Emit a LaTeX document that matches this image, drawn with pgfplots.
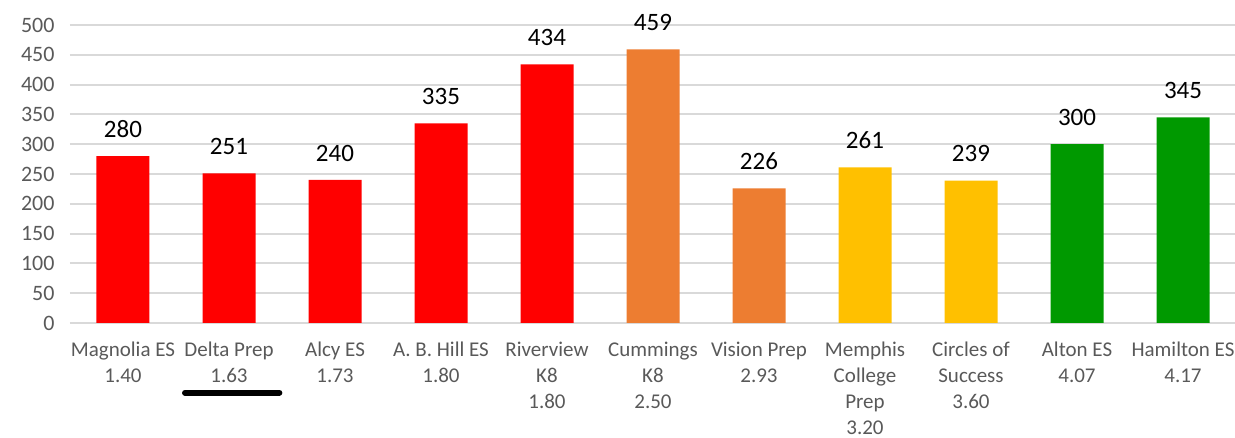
\documentclass[border=0pt]{standalone}
\usepackage{fontspec}
\setmainfont{Carlito}
\usepackage{pgfplots}
\pgfplotsset{compat=1.18}
\definecolor{cred}{HTML}{FF0000}
\definecolor{corange}{HTML}{ED7D31}
\definecolor{cyellow}{HTML}{FFC000}
\definecolor{cgreen}{HTML}{009900}
\definecolor{cgrid}{HTML}{D9D9D9}
\definecolor{ctick}{HTML}{595959}
\begin{document}
\begin{tikzpicture}
\path[use as bounding box] (-70pt,-115pt) rectangle (1165pt,323pt);
\begin{axis}[
  scale only axis, width=1166pt, height=298pt,
  at={(0pt,0pt)}, anchor=south west,
  xmin=-0.5, xmax=10.5, ymin=0, ymax=500,
  ytick={0,50,...,500},
  xtick={0,...,10},
  xticklabels={{Magnolia ES\\1.40},{Delta Prep\\1.63},{Alcy ES\\1.73},{A. B. Hill ES\\1.80},{Riverview\\K8\\1.80},{Cummings\\K8\\2.50},{Vision Prep\\2.93},{Memphis\\College\\Prep\\3.20},{Circles of\\Success\\3.60},{Alton ES\\4.07},{Hamilton ES\\4.17}},
  xticklabel style={align=center, font=\fontsize{21}{26}\selectfont, text=ctick, anchor=north, yshift=-11pt},
  yticklabel style={font=\fontsize{22}{26}\selectfont, text=ctick, xshift=-12pt},
  /pgf/number format/assume math mode=true,
  ymajorgrids, grid style={cgrid, line width=2pt},
  axis line style={draw=none},
  major tick style={draw=none},
  ybar, bar width=53pt, bar shift=0pt,
  nodes near coords,
  nodes near coords style={font=\fontsize{25}{30}\selectfont, text=black, anchor=south, yshift=15pt},
  clip=false,
]
\addplot[fill=cred, draw=none] coordinates {(0,280) (1,251) (2,240) (3,335) (4,434)};
\addplot[fill=corange, draw=none] coordinates {(5,459) (6,226)};
\addplot[fill=cyellow, draw=none] coordinates {(7,261) (8,239)};
\addplot[fill=cgreen, draw=none] coordinates {(9,300) (10,345)};
\draw[line width=6pt, line cap=round, black] (axis cs:0.585,-117) -- (axis cs:1.475,-117);
\end{axis}
\end{tikzpicture}
\end{document}
